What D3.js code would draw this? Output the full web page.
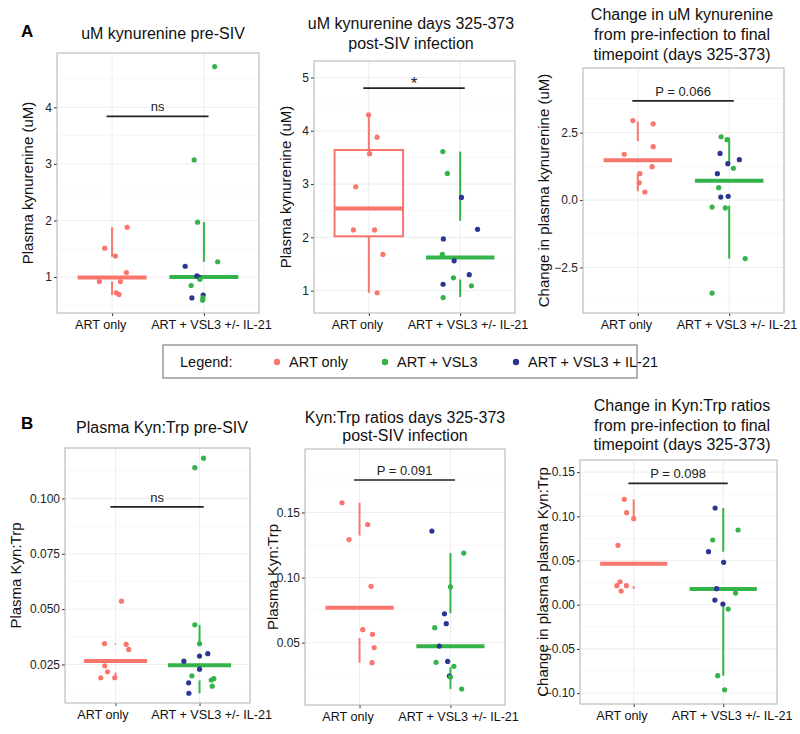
<!DOCTYPE html>
<html>
<head>
<meta charset="utf-8">
<script src="https://cdn.jsdelivr.net/npm/d3@7"></script>
<style>
  html, body { margin: 0; padding: 0; background: #fff; }
  svg { display: block; font-family: "Liberation Sans", Arial, Helvetica, sans-serif; }
</style>
</head>
<body>
<svg id="chart" width="800" height="734"></svg>
<script>
// ---------- DATA ----------
const categories = ["ART only", "ART + VSL3 +/- IL-21"];
const legendLabels = ["ART only", "ART + VSL3", "ART + VSL3 + IL-21"];

// Panel A1: uM kynurenine pre-SIV
const a1ArtVals   = [1.88, 1.51, 1.37, 1.08, 0.92, 0.92, 0.72, 0.69];
const a1ArtJit    = [0.164, -0.080, 0.036, 0.156, -0.139, 0.091, 0.047, 0.076];
const a1ComboVals = [4.72, 3.07, 1.97, 1.27, 1.19, 1.02, 1.00, 0.85, 0.96, 0.63, 0.68, 0.63, 0.59];
const a1ComboArm  = ["V","V","V","V","I","I","I","V","V","I","I","V","V"];
const a1ComboJit  = [0.117, -0.106, -0.069, 0.150, -0.204, -0.076, -0.055, -0.139, -0.044, -0.131, -0.008, -0.011, -0.014];
const a1Median = [0.99, 1.00];
const a1Upper  = [[1.36, 1.88], [1.27, 1.97]];
const a1Lower  = [[0.68, 0.92], [0.59, 0.63]];
const a1Ticks  = [1, 2, 3, 4];

// Panel A2: uM kynurenine days 325-373
const a2ArtVals   = [4.30, 3.88, 3.57, 2.95, 2.14, 2.14, 1.68, 0.96];
const a2ArtJit    = [-0.003, 0.091, 0.008, -0.143, -0.168, 0.063, 0.154, 0.091];
const a2ComboVals = [3.61, 3.20, 2.75, 2.15, 1.97, 1.68, 1.56, 1.24, 1.30, 1.12, 1.09, 0.87];
const a2ComboArm  = ["V","V","I","I","I","V","I","V","I","I","V","V"];
const a2ComboJit  = [-0.190, -0.140, 0.014, 0.190, -0.184, -0.195, -0.066, -0.074, 0.099, -0.187, 0.124, -0.187];
const a2ArtBox = [2.02, 2.54, 3.64];   // q1, median, q3
const a2Median = [2.54, 1.62];
const a2Upper  = [[3.64, 4.30], [2.31, 3.61]];
const a2Lower  = [[0.96, 2.02], [0.88, 1.21]];
const a2Ticks  = [1, 2, 3, 4, 5];

// Panel A3: change in uM kynurenine
const a3ArtVals   = [2.95, 2.83, 1.98, 1.70, 1.24, 0.98, 0.64, 0.30];
const a3ArtJit    = [-0.054, 0.168, 0.168, -0.149, 0.157, 0.023, 0.015, 0.077];
const a3ComboVals = [2.35, 2.24, 1.73, 1.50, 1.35, 1.18, 0.98, 0.46, 0.11, 0.14, -0.26, -0.29, -2.17, -3.45];
const a3ComboArm  = ["V","V","I","I","I","V","I","V","I","I","V","V","V","V"];
const a3ComboJit  = [-0.088, -0.023, -0.100, 0.111, -0.015, 0.046, -0.129, -0.115, -0.092, -0.011, -0.187, -0.042, 0.175, -0.187];
const a3Median = [1.48, 0.72];
const a3Upper  = [[2.19, 2.91], [1.36, 2.32]];
const a3Lower  = [[0.33, 0.99], [-2.17, -0.21]];
const a3Ticks  = [-2.5, 0, 2.5];

// Panel B1: Plasma Kyn:Trp pre-SIV
const b1ArtVals   = [0.0536, 0.0344, 0.0341, 0.0318, 0.0244, 0.0217, 0.0190, 0.0190];
const b1ArtJit    = [0.071, -0.130, 0.127, 0.158, -0.127, -0.095, -0.174, -0.008];
const b1ComboVals = [0.1182, 0.1139, 0.0429, 0.0344, 0.0299, 0.0288, 0.0265, 0.0229, 0.0199, 0.0186, 0.0180, 0.0167, 0.0152, 0.0120];
const b1ComboArm  = ["V","V","V","V","I","I","I","I","V","V","V","I","V","I"];
const b1ComboJit  = [0.047, -0.056, -0.056, 0, 0.098, 0, -0.186, 0, -0.091, 0.170, 0.139, -0.130, 0.151, -0.127];
const b1Median = [0.0266, 0.0247];
const b1Upper  = [[0.0340, 0.0344], [0.0335, 0.0429]];
const b1Lower  = [[0.0190, 0.0213], [0.0120, 0.0178]];
const b1Ticks  = [0.025, 0.050, 0.075, 0.100];

// Panel B2: Kyn:Trp ratios days 325-373
const b2ArtVals   = [0.1575, 0.1408, 0.1292, 0.0933, 0.0600, 0.0564, 0.0462, 0.0346];
const b2ArtJit    = [-0.193, 0.089, -0.115, 0.127, 0.035, 0.142, 0.161, 0.138];
const b2ComboVals = [0.1357, 0.1188, 0.0929, 0.0722, 0.0646, 0.0615, 0.0474, 0.0349, 0.0356, 0.0318, 0.0244, 0.0236, 0.0144];
const b2ComboArm  = ["I","V","V","I","I","V","I","V","I","V","I","V","V"];
const b2ComboJit  = [-0.204, 0.146, 0, -0.066, -0.046, -0.173, -0.123, -0.158, -0.031, 0.038, -0.012, 0, 0.123];
const b2Median = [0.0769, 0.0472];
const b2Upper  = [[0.1323, 0.1575], [0.0726, 0.1188]];
const b2Lower  = [[0.0346, 0.0535], [0.0144, 0.0311]];
const b2Ticks  = [0.05, 0.10, 0.15];

// Panel B3: change in Kyn:Trp ratios
const b3ArtVals   = [0.1192, 0.1041, 0.0973, 0.0672, 0.0260, 0.0215, 0.0215, 0.0155];
const b3ArtJit    = [-0.106, -0.079, 0, -0.176, -0.153, -0.188, -0.082, -0.141];
const b3ComboVals = [0.1094, 0.0845, 0.0732, 0.0600, 0.0480, 0.0181, 0.0132, 0.0053, 0.0008, -0.0049, -0.0803, -0.0962];
const b3ComboArm  = ["I","V","V","I","I","I","V","I","I","V","V","V"];
const b3ComboJit  = [-0.091, 0.165, -0.118, -0.165, 0.004, -0.074, 0.138, -0.094, -0.004, 0.055, -0.062, 0.015];
const b3Median = [0.0464, 0.0178];
const b3Upper  = [[0.097, 0.1192], [0.060, 0.1094]];
const b3Lower  = [[0.018, 0.021], [-0.0803, -0.001]];
const b3Ticks  = [-0.10, -0.05, 0.00, 0.05, 0.10, 0.15];

// Significance annotations
const sigLabels = ["ns", "*", "P = 0.066", "ns", "P = 0.091", "P = 0.098"];
const sigLevels = [3.84, 4.80, 3.68, 0.0962, 0.175, 0.1373];

// ---------- STYLE ----------
const COL_ART = "#F8766D", COL_VSL3 = "#33B34A", COL_IL21 = "#2B3592";
const armColor = a => a === "I" ? COL_IL21 : COL_VSL3;

const svg = d3.select("#chart");

const panels = [
  { title: ["uM kynurenine pre-SIV"], titleX: 163, titleY: [33],
    yTitle: "Plasma kynurenine (uM)", yTitleX: 27,
    box: [57, 259, 53, 313], domain: [0.364, 4.96], ticks: a1Ticks, fmt: d3.format("d"),
    art: a1ArtVals, artJit: a1ArtJit, combo: a1ComboVals, comboArm: a1ComboArm, comboJit: a1ComboJit,
    median: a1Median, upper: a1Upper, lower: a1Lower, sig: 0 },
  { title: ["uM kynurenine days 325-373", "post-SIV infection"], titleX: 411, titleY: [23.5, 43],
    yTitle: "Plasma kynurenine (uM)", yTitleX: 285,
    box: [314, 515, 61, 313], domain: [0.58, 5.31], ticks: a2Ticks, fmt: d3.format("d"),
    art: a2ArtVals, artJit: a2ArtJit, combo: a2ComboVals, comboArm: a2ComboArm, comboJit: a2ComboJit,
    median: a2Median, upper: a2Upper, lower: a2Lower, artBox: a2ArtBox, sig: 1 },
  { title: ["Change in uM kynurenine", "from pre-infection to final", "timepoint (days 325-373)"], titleX: 682, titleY: [14.5, 34.5, 54.5],
    yTitle: "Change in plasma kynurenine (uM)", yTitleX: 543,
    box: [583, 784, 68, 313], domain: [-4.19, 4.90], ticks: a3Ticks, fmt: d3.format(".1f"),
    art: a3ArtVals, artJit: a3ArtJit, combo: a3ComboVals, comboArm: a3ComboArm, comboJit: a3ComboJit,
    median: a3Median, upper: a3Upper, lower: a3Lower, sig: 2 },
  { title: ["Plasma Kyn:Trp pre-SIV"], titleX: 162, titleY: [427],
    yTitle: "Plasma Kyn:Trp", yTitleX: 15,
    box: [65, 250, 448, 703], domain: [0.0076, 0.1228], ticks: b1Ticks, fmt: d3.format(".3f"),
    art: b1ArtVals, artJit: b1ArtJit, combo: b1ComboVals, comboArm: b1ComboArm, comboJit: b1ComboJit,
    median: b1Median, upper: b1Upper, lower: b1Lower, sig: 3 },
  { title: ["Kyn:Trp ratios days 325-373", "post-SIV infection"], titleX: 405, titleY: [417, 435.5],
    yTitle: "Plasma Kyn:Trp", yTitleX: 272,
    box: [305, 505, 449, 705], domain: [0.0021, 0.1988], ticks: b2Ticks, fmt: d3.format(".2f"),
    art: b2ArtVals, artJit: b2ArtJit, combo: b2ComboVals, comboArm: b2ComboArm, comboJit: b2ComboJit,
    median: b2Median, upper: b2Upper, lower: b2Lower, sig: 4 },
  { title: ["Change in Kyn:Trp ratios", "from pre-infection to final", "timepoint (days 325-373)"], titleX: 682, titleY: [405, 425, 444.5],
    yTitle: "Change in plasma plasma Kyn:Trp", yTitleX: 542,
    box: [580, 777, 460, 704], domain: [-0.1123, 0.1637], ticks: b3Ticks, fmt: d3.format(".2f"),
    art: b3ArtVals, artJit: b3ArtJit, combo: b3ComboVals, comboArm: b3ComboArm, comboJit: b3ComboJit,
    median: b3Median, upper: b3Upper, lower: b3Lower, sig: 5 }
];

function drawPanel(p) {
  const [x0, x1, y0, y1] = p.box;
  const g = svg.append("g");
  const x = d3.scalePoint().domain(categories).range([x0, x1]).padding(0.6);
  const y = d3.scaleLinear().domain(p.domain).range([y1, y0]);
  const step = x.step();

  // grid: minor then major
  const t = p.ticks;
  const d = t.length > 1 ? t[1] - t[0] : 1;
  const minor = [];
  for (let v = t[0] - d / 2; v <= p.domain[1]; v += d) if (v >= p.domain[0]) minor.push(v);
  g.selectAll(".minor").data(minor).join("line")
    .attr("x1", x0).attr("x2", x1).attr("y1", d => y(d)).attr("y2", d => y(d))
    .attr("stroke", "#f3f3f3").attr("stroke-width", 0.6);
  g.selectAll(".major").data(t).join("line")
    .attr("x1", x0).attr("x2", x1).attr("y1", d => y(d)).attr("y2", d => y(d))
    .attr("stroke", "#e8e8e8").attr("stroke-width", 0.8);
  g.selectAll(".vgrid").data(categories).join("line")
    .attr("x1", d => x(d)).attr("x2", d => x(d)).attr("y1", y0).attr("y2", y1)
    .attr("stroke", "#e8e8e8").attr("stroke-width", 0.8);

  // axes
  const yAxis = d3.axisLeft(y).tickValues(t).tickFormat(p.fmt).tickSize(3).tickPadding(2);
  const ya = g.append("g").attr("transform", `translate(${x0},0)`).call(yAxis);
  ya.select(".domain").remove();
  ya.selectAll("line").attr("stroke", "#333");
  ya.selectAll("text").attr("font-size", 12).attr("fill", "#222")
    .attr("font-family", "Liberation Sans, Arial, sans-serif");
  const xAxis = d3.axisBottom(x).tickSize(3).tickPadding(4);
  const xa = g.append("g").attr("transform", `translate(0,${y1})`).call(xAxis);
  xa.select(".domain").remove();
  xa.selectAll("line").attr("stroke", "#333");
  // labels in the reference are spread apart so they do not collide
  xa.selectAll("text").attr("font-size", 12.6).attr("fill", "#111")
    .attr("font-family", "Liberation Sans, Arial, sans-serif")
    .attr("text-anchor", (c, i) => i === 0 ? "end" : "start")
    .attr("x", (c, i) => i === 0 ? 0.15 * step : -0.58 * step);

  // panel border
  g.append("rect").attr("x", x0).attr("y", y0).attr("width", x1 - x0).attr("height", y1 - y0)
    .attr("fill", "none").attr("stroke", "#b0b0b0").attr("stroke-width", 1);

  // summaries
  const colors = [COL_ART, COL_VSL3];
  categories.forEach((c, i) => {
    const cx = x(c);
    const half = step * 0.375;
    if (i === 0 && p.artBox) {
      g.append("rect").attr("x", cx - half).attr("width", 2 * half)
        .attr("y", y(p.artBox[2])).attr("height", y(p.artBox[0]) - y(p.artBox[2]))
        .attr("fill", "none").attr("stroke", colors[i]).attr("stroke-width", 2);
    }
    [p.upper[i], p.lower[i]].forEach(seg => {
      g.append("line").attr("x1", cx).attr("x2", cx)
        .attr("y1", y(seg[0])).attr("y2", y(seg[1]))
        .attr("stroke", colors[i]).attr("stroke-width", 2);
    });
    g.append("line").attr("x1", cx - half).attr("x2", cx + half)
      .attr("y1", y(p.median[i])).attr("y2", y(p.median[i]))
      .attr("stroke", colors[i]).attr("stroke-width", 4);
  });

  // points
  const pts = p.art.map((v, i) => ({ v, j: p.artJit[i], c: COL_ART, cat: categories[0] }))
    .concat(p.combo.map((v, i) => ({ v, j: p.comboJit[i], c: armColor(p.comboArm[i]), cat: categories[1] })));
  g.selectAll(".pt").data(pts).join("circle")
    .attr("cx", d => x(d.cat) + d.j * step).attr("cy", d => y(d.v)).attr("r", 2.6)
    .attr("fill", d => d.c);

  // significance bracket
  const sy = y(sigLevels[p.sig]);
  const bx0 = x(categories[0]) - 0.06 * step, bx1 = x(categories[1]) + 0.05 * step;
  g.append("line").attr("x1", bx0).attr("x2", bx1).attr("y1", sy).attr("y2", sy)
    .attr("stroke", "#222").attr("stroke-width", 1.6);
  const lbl = sigLabels[p.sig];
  g.append("text").attr("x", (bx0 + bx1) / 2).attr("y", lbl === "*" ? sy + 1 : sy - 5)
    .attr("text-anchor", "middle").attr("font-size", lbl === "*" ? 17 : 13)
    .attr("fill", "#222").text(lbl);

  // titles
  p.title.forEach((line, k) => {
    svg.append("text").attr("x", p.titleX).attr("y", p.titleY[k])
      .attr("text-anchor", "middle").attr("dominant-baseline", "central")
      .attr("font-size", 16).attr("fill", "#111").text(line);
  });
  svg.append("text")
    .attr("transform", `translate(${p.yTitleX},${(y0 + y1) / 2}) rotate(-90)`)
    .attr("text-anchor", "middle").attr("dominant-baseline", "central")
    .attr("font-size", 15).attr("fill", "#111").text(p.yTitle);
}

panels.forEach(drawPanel);

// panel letters
svg.append("text").attr("x", 21).attr("y", 37).attr("font-size", 17).attr("font-weight", "bold").text("A");
svg.append("text").attr("x", 21).attr("y", 429).attr("font-size", 17).attr("font-weight", "bold").text("B");

// legend
const lg = svg.append("g");
lg.append("rect").attr("x", 163).attr("y", 345).attr("width", 474).attr("height", 33)
  .attr("fill", "#fff").attr("stroke", "#8a8a8a").attr("stroke-width", 1.3);
lg.append("text").attr("x", 180).attr("y", 362).attr("dominant-baseline", "central")
  .attr("font-size", 14.5).attr("fill", "#111").text("Legend:");
const legColors = [COL_ART, COL_VSL3, COL_IL21];
const legX = [277, 385, 516];
legendLabels.forEach((l, i) => {
  lg.append("circle").attr("cx", legX[i]).attr("cy", 362).attr("r", 3.2).attr("fill", legColors[i]);
  lg.append("text").attr("x", legX[i] + 12).attr("y", 362).attr("dominant-baseline", "central")
    .attr("font-size", 14.5).attr("fill", "#111").text(l);
});
</script>
</body>
</html>
